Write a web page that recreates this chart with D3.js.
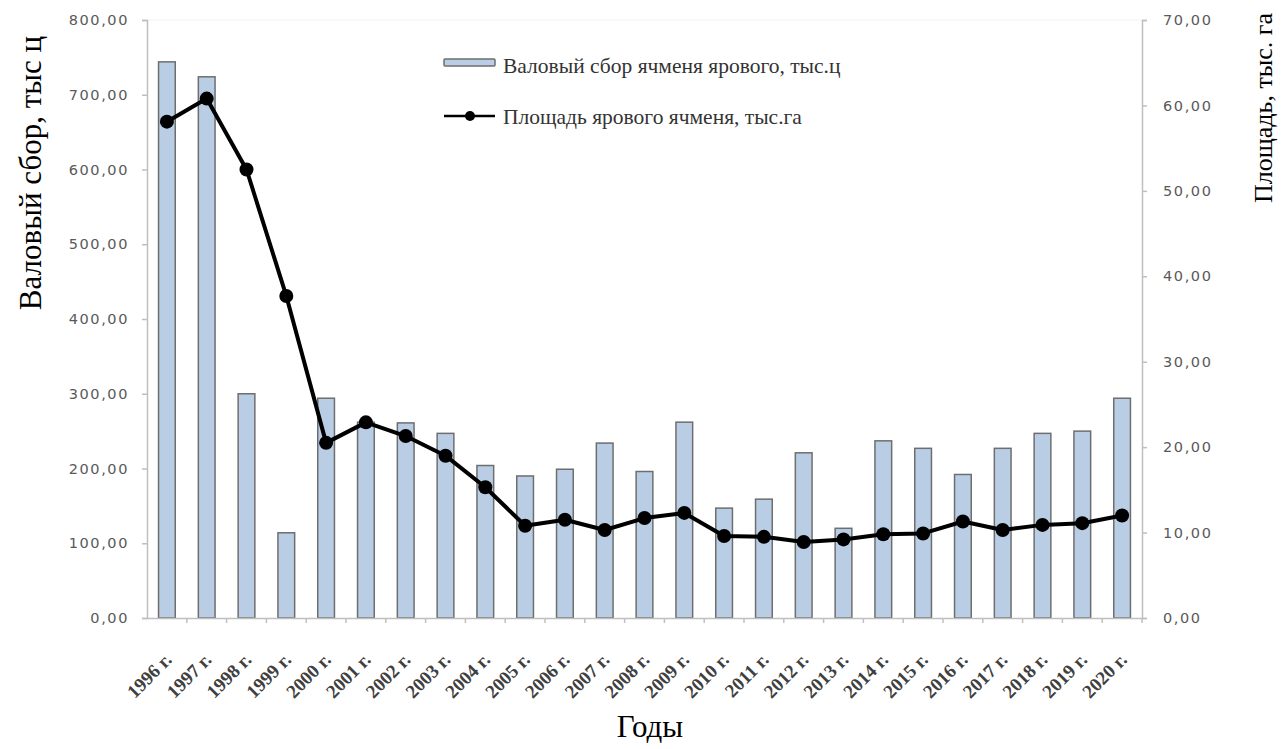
<!DOCTYPE html>
<html><head><meta charset="utf-8">
<script src="https://cdn.jsdelivr.net/npm/d3@7"></script>
<style>body{margin:0;background:#fff}svg{display:block}</style>
</head><body>
<svg id="c" width="1281" height="749"></svg>
<script>
const years = ["1996 г.","1997 г.","1998 г.","1999 г.","2000 г.","2001 г.","2002 г.","2003 г.","2004 г.","2005 г.","2006 г.","2007 г.","2008 г.","2009 г.","2010 г.","2011 г.","2012 г.","2013 г.","2014 г.","2015 г.","2016 г.","2017 г.","2018 г.","2019 г.","2020 г."];
const harvest = [744,724,300,114,294,262,261,247,204,190,199,234,196,262,147,159,221,120,237,227,192,227,247,250,294];
const area = [58.1,60.8,52.5,37.7,20.5,22.9,21.3,19.0,15.3,10.8,11.5,10.3,11.7,12.3,9.6,9.5,8.9,9.2,9.8,9.9,11.3,10.3,10.9,11.1,12.0];
const leftTicks = [0,100,200,300,400,500,600,700,800];
const rightTicks = [0,10,20,30,40,50,60,70];
const seriesNames = ["Валовый сбор ячменя ярового, тыс.ц","Площадь ярового ячменя, тыс.га"];
const titles = {left:"Валовый сбор, тыс ц", right:"Площадь, тыс. га", bottom:"Годы"};

const svg = d3.select("#c");
const L = 147, R = 1142, T = 20, B = 618;
const x = d3.scaleBand().domain(years).range([L, R]).paddingInner(0.58).paddingOuter(0.29);
const yL = d3.scaleLinear().domain([0, 800]).range([B, T]);
const yR = d3.scaleLinear().domain([0, 70]).range([B, T]);
const fmt = v => d3.format(".2f")(v).replace(".", ",");
const axisColor = "#bfbfbf";
const tickFont = "'DejaVu Sans', Verdana, sans-serif";
const serif = "'Liberation Serif', 'Times New Roman', serif";

// faint top border
svg.append("line").attr("x1", L).attr("x2", R).attr("y1", T).attr("y2", T)
  .attr("stroke", "#f2f2f2").attr("stroke-width", 1);

// left axis
const gL = svg.append("g").attr("transform", `translate(${L},0)`)
  .call(d3.axisLeft(yL).tickValues(leftTicks).tickSize(5).tickPadding(13).tickFormat(fmt));
// right axis
const gR = svg.append("g").attr("transform", `translate(${R},0)`)
  .call(d3.axisRight(yR).tickValues(rightTicks).tickSize(5).tickPadding(16).tickFormat(fmt));
[gL, gR].forEach(g => {
  g.select(".domain").attr("stroke", axisColor).attr("stroke-width", 1.5);
  g.selectAll(".tick line").attr("stroke", axisColor).attr("stroke-width", 1.5);
  g.selectAll(".tick text").attr("fill", "#595959").style("font-family", tickFont)
    .style("font-size", "14.5px").style("letter-spacing", "1.6px");
});

// bars
svg.append("g").selectAll("rect").data(years).join("rect")
  .attr("x", d => x(d)).attr("width", x.bandwidth())
  .attr("y", (d, i) => yL(harvest[i])).attr("height", (d, i) => B - yL(harvest[i]))
  .attr("fill", "#b9cde5").attr("stroke", "#6e6e6e").attr("stroke-width", 1.5);

// x axis
const gX = svg.append("g").attr("transform", `translate(0,${B})`)
  .call(d3.axisBottom(x).tickSize(0).tickFormat(""));
gX.select(".domain").attr("stroke", axisColor).attr("stroke-width", 1.5);
const step = x.step();
const bounds = years.map(d => x(d) + x.bandwidth() / 2 + step / 2);
svg.append("g").selectAll("line").data(bounds).join("line")
  .attr("x1", d => d).attr("x2", d => d).attr("y1", B).attr("y2", B + 5)
  .attr("stroke", axisColor).attr("stroke-width", 1.5);
svg.append("g").selectAll("text").data(years).join("text")
  .attr("transform", d => `translate(${x(d) + x.bandwidth() / 2 + 6},${B + 43}) rotate(-45)`)
  .attr("text-anchor", "end")
  .style("font-family", serif).style("font-size", "19px").style("font-weight", "bold")
  .attr("fill", "#404040")
  .text(d => d);

// line
const line = d3.line().x((d, i) => x(years[i]) + x.bandwidth() / 2).y(d => yR(d));
svg.append("path").datum(area).attr("d", line)
  .attr("fill", "none").attr("stroke", "#000").attr("stroke-width", 4).attr("stroke-linejoin", "round");
svg.append("g").selectAll("circle").data(area).join("circle")
  .attr("cx", (d, i) => x(years[i]) + x.bandwidth() / 2).attr("cy", d => yR(d)).attr("r", 7)
  .attr("fill", "#000");

// legend
const lg = svg.append("g");
lg.append("rect").attr("x", 444).attr("y", 59).attr("width", 51).attr("height", 7)
  .attr("fill", "#b9cde5").attr("stroke", "#6e6e6e").attr("stroke-width", 1.5).attr("rx", 1);
lg.append("text").attr("x", 503).attr("y", 73).text(seriesNames[0]);
lg.append("line").attr("x1", 444).attr("x2", 495).attr("y1", 116).attr("y2", 116)
  .attr("stroke", "#000").attr("stroke-width", 2.5);
lg.append("circle").attr("cx", 470).attr("cy", 116).attr("r", 5).attr("fill", "#000");
lg.append("text").attr("x", 503).attr("y", 124).text(seriesNames[1]);
lg.selectAll("text").style("font-family", serif).style("font-size", "21.5px").attr("fill", "#333");

// axis titles
svg.append("text").attr("transform", "translate(41,173) rotate(-90)").attr("text-anchor", "middle")
  .style("font-family", serif).style("font-size", "31px").attr("fill", "#000").text(titles.left);
svg.append("text").attr("transform", "translate(1272,108) rotate(-90)").attr("text-anchor", "middle")
  .style("font-family", serif).style("font-size", "26px").attr("fill", "#000").text(titles.right);
svg.append("text").attr("x", 650).attr("y", 737).attr("text-anchor", "middle")
  .style("font-family", serif).style("font-size", "31px").attr("fill", "#000").text(titles.bottom);
</script>
</body></html>
